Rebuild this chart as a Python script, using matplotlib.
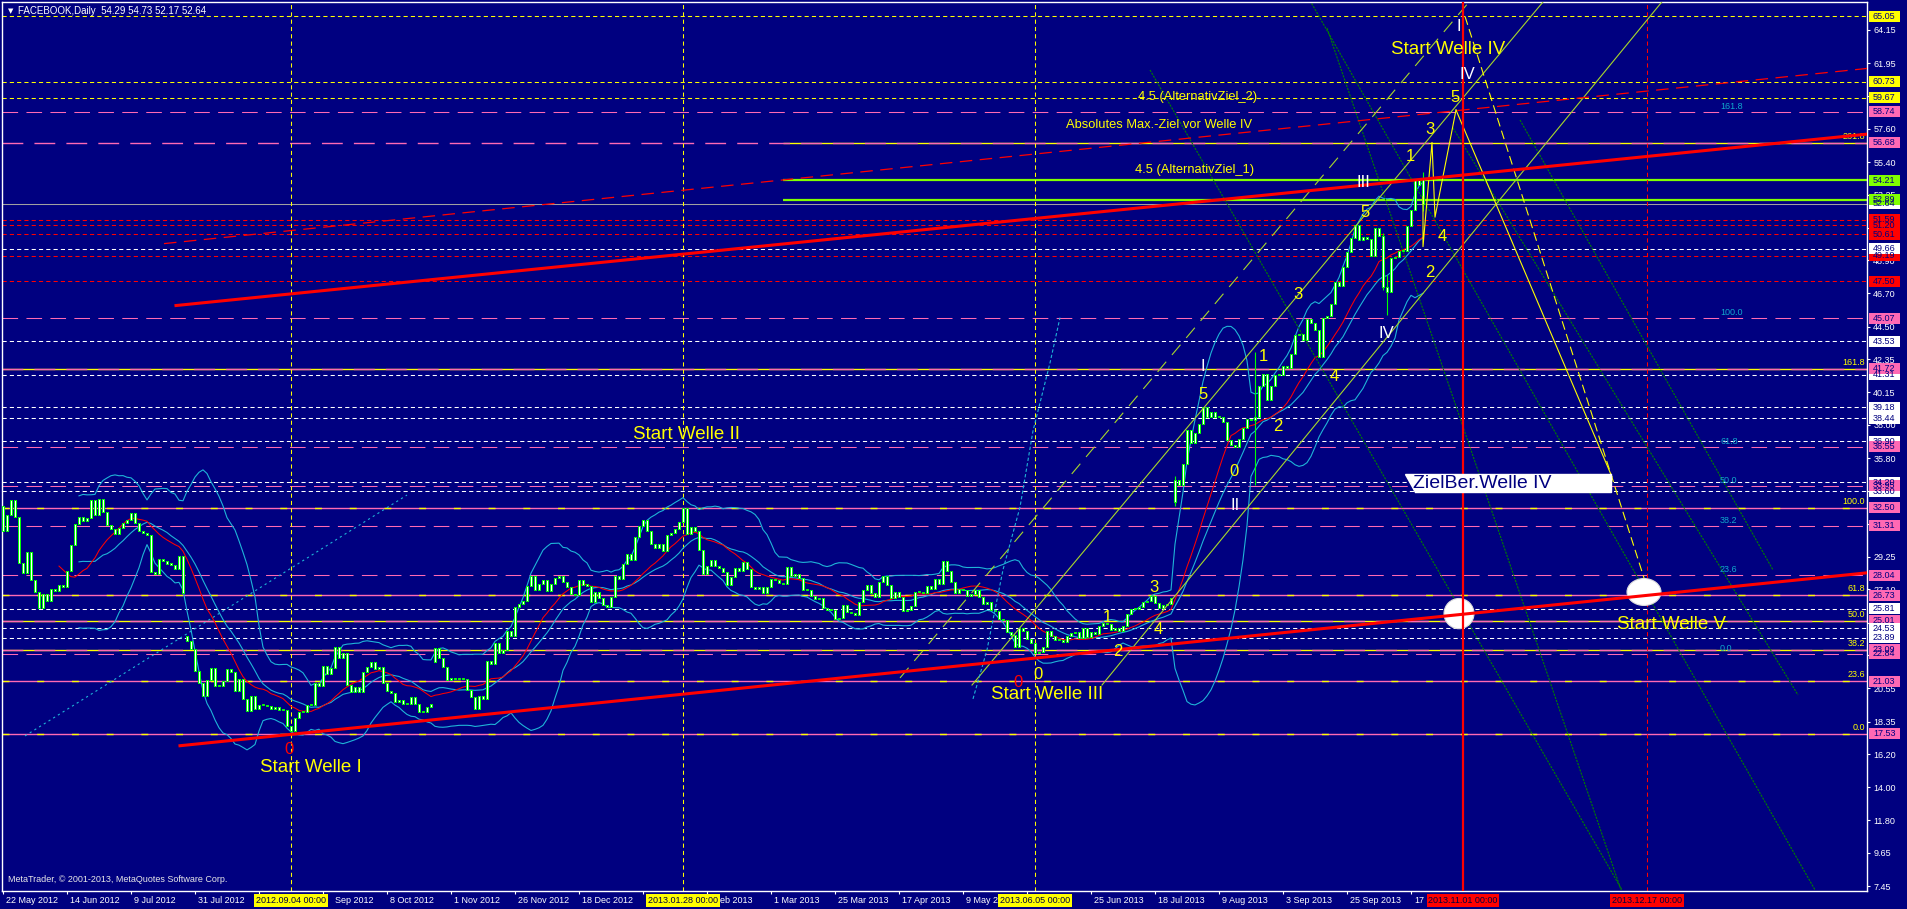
"""FACEBOOK daily chart with Elliott wave markup, drawn in the MetaTrader style."""

import matplotlib
matplotlib.use("Agg")
import matplotlib.pyplot as plt
import matplotlib.transforms as mtransforms
from matplotlib.patches import Ellipse, Polygon, Rectangle
import numpy as np
import pandas as pd

plt.rcParams["font.family"] = ["Liberation Sans", "DejaVu Sans"]

NAVY = "#000080"
LIME = "#00ff00"
CYAN = "#1fb4d8"
PINK = "#ff69b4"
YELLOW = "#ffff00"
RED = "#ff0000"
CHART = "#80ff00"
YGREEN = "#a8d82a"
DGREEN = "#008000"
FIBO_CYAN = "#10a8cc"

# daily closes, 22 May 2012 .. 22 Oct 2013 (bar index 0 .. 355)
closes = [
    31.00, 32.00, 33.03, 31.91, 28.84, 28.19, 29.60, 27.72, 26.90, 25.87,
    26.81, 26.31, 27.10, 27.01, 27.40, 27.27, 28.29, 30.01, 31.41, 31.91,
    31.60, 31.84, 33.05, 32.06, 33.10, 32.23, 31.36, 31.10, 30.77, 31.20,
    31.47, 31.73, 32.17, 31.47, 30.97, 30.81, 30.72, 28.25, 28.09, 29.11,
    29.00, 28.76, 28.75, 28.45, 29.34, 26.85, 23.71, 23.15, 21.71, 20.88,
    20.04, 21.09, 21.92, 20.72, 20.72, 21.01, 21.81, 21.60, 20.38, 21.20,
    19.87, 19.05, 20.01, 19.16, 19.44, 19.44, 19.41, 19.15, 19.34, 19.10,
    19.09, 18.06, 17.73, 18.58, 18.96, 18.98, 19.43, 19.43, 20.93, 20.71,
    22.00, 21.52, 21.87, 23.29, 22.59, 22.86, 20.79, 20.28, 20.62, 20.32,
    21.66, 21.99, 22.27, 21.83, 21.95, 20.91, 20.40, 20.23, 19.64, 19.75,
    19.52, 19.52, 19.97, 19.50, 18.98, 19.00, 19.32, 19.50, 23.23, 22.56,
    21.94, 21.11, 21.21, 21.18, 21.25, 21.17, 20.47, 19.99, 19.21, 20.07,
    19.86, 22.36, 22.17, 23.56, 22.92, 23.10, 24.32, 24.00, 25.94, 26.15,
    26.36, 27.32, 28.00, 27.04, 27.46, 27.71, 26.97, 27.49, 27.84, 27.98,
    27.58, 27.24, 26.81, 26.75, 27.71, 27.41, 27.36, 26.26, 26.93, 26.51,
    26.05, 25.91, 26.62, 28.00, 27.77, 28.76, 29.42, 29.06, 30.59, 31.30,
    31.72, 30.95, 30.10, 29.85, 30.14, 29.66, 30.73, 30.82, 31.08, 31.54,
    32.47, 30.79, 31.24, 30.98, 29.73, 28.11, 28.64, 29.05, 28.65, 28.55,
    28.26, 27.37, 27.91, 28.50, 28.32, 28.93, 28.46, 27.28, 27.13, 27.27,
    26.87, 27.25, 27.78, 27.72, 27.52, 27.45, 28.58, 27.96, 28.14, 27.83,
    27.08, 27.04, 26.65, 26.49, 26.55, 25.86, 25.74, 25.73, 25.13, 25.21,
    26.09, 25.58, 25.53, 25.42, 26.25, 27.07, 27.39, 26.85, 26.59, 27.57,
    28.02, 27.40, 26.52, 26.92, 26.63, 25.69, 25.73, 25.97, 26.92, 26.92,
    26.85, 27.33, 27.10, 27.77, 27.43, 28.97, 28.31, 27.57, 26.89, 27.12,
    27.04, 26.68, 26.82, 27.07, 26.60, 26.13, 26.25, 25.76, 25.66, 25.16,
    25.06, 24.31, 24.10, 23.32, 24.55, 24.35, 23.85, 23.52, 22.90, 22.97,
    23.29, 24.33, 24.03, 23.77, 23.73, 23.63, 24.02, 24.21, 24.31, 23.90,
    24.53, 23.94, 24.25, 24.16, 24.66, 24.88, 24.81, 24.41, 24.52, 24.37,
    24.71, 25.48, 25.80, 25.81, 25.91, 26.28, 26.32, 26.65, 26.18, 25.88,
    26.05, 26.13, 26.51, 34.36, 34.01, 35.43, 37.63, 36.80, 37.49, 38.05,
    39.19, 38.55, 38.87, 38.54, 38.50, 38.22, 37.02, 36.65, 36.56, 37.08,
    37.81, 38.41, 38.32, 38.55, 40.55, 41.34, 39.64, 40.55, 41.28, 41.29,
    41.87, 41.78, 42.66, 43.95, 44.04, 43.60, 45.04, 44.75, 44.31, 42.51,
    45.07, 45.23, 45.98, 47.49, 47.19, 48.45, 49.46, 50.39, 51.24, 50.23,
    50.42, 50.28, 49.18, 51.04, 50.52, 47.14, 46.77, 49.05, 49.11, 49.51,
    49.50, 51.14, 52.21, 54.22, 53.85, 52.64,
]

# bars whose open is not the previous close (gaps)
gap_bars = [0, 46, 108, 293, 355]
gap_opens = [32.61, 24.00, 22.30, 32.90, 54.29]
# bars with long shadows
wick_bars = [293, 313, 345, 346, 355]
wick_lows = [32.60, 34.00, 46.90, 45.30, 52.17]
wick_highs = [34.60, 42.80, 50.70, 47.90, 54.73]

# time scale: the part of each label that is not covered by a date box
date_ticks = list(range(0, 353, 16))
date_label_bars = [0.75, 16.75, 32.75, 48.75, 83.0, 96.75, 112.75, 128.75, 144.75,
                   179.25, 192.75, 208.75, 224.75, 240.75, 272.75, 288.75, 304.75,
                   320.75, 336.75, 352.75]
date_labels = [
    "22 May 2012", "14 Jun 2012", "9 Jul 2012", "31 Jul 2012", "Sep 2012",
    "8 Oct 2012", "1 Nov 2012", "26 Nov 2012", "18 Dec 2012", "eb 2013",
    "1 Mar 2013", "25 Mar 2013", "17 Apr 2013", "9 May 2", "25 Jun 2013",
    "18 Jul 2013", "9 Aug 2013", "3 Sep 2013", "25 Sep 2013", "17",
]

price_ticks = [7.45, 9.65, 11.80, 14.00, 16.20, 18.35, 20.55, 22.75, 24.90,
               27.10, 29.25, 31.40, 33.60, 35.80, 38.00, 40.15, 42.35, 44.50,
               46.70, 48.90, 51.05, 53.25, 55.40, 57.60, 59.80, 61.95, 64.15]

# horizontal lines
white_levels = [49.66, 43.53, 41.31, 39.18, 38.44, 36.90, 34.20, 33.60, 25.81, 24.53, 23.89]
red_levels = [51.59, 51.20, 50.61, 49.19, 47.50]
yellow_levels = [65.05, 60.73, 59.67]
green_levels = [54.21, 52.89]
fibo_a_prices = [17.53, 21.03, 23.09, 25.01, 26.73, 32.50, 41.72, 56.68]
fibo_a_labels = ["0.0", "23.6", "38.2", "50.0", "61.8", "100.0", "161.8", "261.8"]
fibo_a_yellow = [False, False, True, True, False, False, True, True]
fibo_b_prices = [22.84, 28.04, 31.31, 33.95, 36.55, 45.07, 58.74]
fibo_b_labels = ["0.0", "23.6", "38.2", "50.0", "61.8", "100.0", "161.8"]

# price labels on the right scale (drawn in this order)
box_prices = [65.05, 60.73, 59.67, 58.74, 56.68, 54.21, 52.64, 52.89, 51.20, 51.59,
              50.61, 49.19, 49.66, 47.50, 45.07, 43.53, 41.31, 41.72, 39.18, 38.44,
              36.90, 36.55, 34.20, 33.60, 33.95, 32.50, 31.31, 28.04, 26.73, 25.81,
              25.01, 24.53, 23.89, 23.09, 22.84, 21.03, 17.53]
box_colors = [YELLOW, YELLOW, YELLOW, PINK, PINK, CHART, "white", CHART, RED, RED,
              RED, RED, "white", RED, PINK, "white", "white", PINK, "white", "white",
              "white", PINK, "white", "white", PINK, PINK, PINK, PINK, PINK, "white",
              PINK, "white", "white", PINK, PINK, PINK, PINK]

# chart objects, anchors as (bar index, price)
red_low_x, red_low_y = [44.25, 466.0], [16.75, 28.20]
red_up_x, red_up_y = [43.25, 466.0], [45.90, 57.25]
red_dash_x, red_dash_y = [40.25, 466.0], [50.00, 61.60]
yg_solid_x = [[242.25, 385.0], [274.75, 414.7]]
yg_solid_y = [[20.77, 66.0], [20.77, 66.0]]
yg_dash_x, yg_dash_y = [224.25, 366.5], [21.24, 66.0]
dg_x = [[331.0, 404.5], [286.75, 404.75], [326.75, 453.0], [379.25, 442.5], [362.5, 448.75]]
dg_y = [[64.28, 7.20], [61.50, 7.20], [66.10, 7.20], [58.19, 28.39], [57.66, 20.11]]
cyan_line_x, cyan_line_y = [5.5, 101.0], [17.40, 33.35]
cyan_curve_x = [242.5, 246.0, 250.0, 254.25, 257.5, 261.75, 264.25]
cyan_curve_y = [19.85, 23.10, 28.40, 32.55, 37.60, 42.10, 45.10]
zig_x, zig_y = [355.0, 355.0, 357.25, 358.0, 363.25], [53.10, 49.80, 56.70, 51.75, 58.85]
proj_a_x, proj_a_y = [363.25, 402.25], [58.85, 34.55]
proj_b_x, proj_b_y = [365.5, 410.5], [65.05, 27.65]
target_x = [364.0, 410.25]
target_y = [25.50, 26.93]
target_w = [7.5, 8.5]
target_h = [2.0, 1.78]
ziel_x = [350.5, 402.0, 402.0, 353.0]
ziel_y = [34.75, 34.75, 33.55, 33.55]

vline_bars = [72, 170, 258, 365, 411]
vline_labels = ["2012.09.04 00:00", "2013.01.28 00:00", "2013.06.05 00:00",
                "2013.11.01 00:00", "2013.12.17 00:00"]
vline_colors = [YELLOW, YELLOW, YELLOW, RED, RED]

# wave counts: (text, bar index, price)
wave_yellow = [("0", 258.75, 21.44), ("1", 276.0, 25.21), ("2", 278.75, 22.96),
               ("3", 287.75, 27.20), ("4", 288.75, 24.42), ("5", 300.0, 40.04),
               ("0", 307.75, 34.88), ("1", 315.0, 42.50), ("2", 318.75, 37.92),
               ("3", 323.75, 46.60), ("4", 332.75, 41.17), ("5", 340.5, 52.03),
               ("1", 351.75, 55.74), ("3", 356.75, 57.53), ("5", 363.0, 59.65),
               ("4", 359.75, 50.44), ("2", 356.75, 48.06)]
wave_white = [("I", 300.0, 41.83), ("II", 308.0, 32.63), ("III", 340.0, 54.02),
              ("IV", 345.75, 44.02), ("IV", 366.0, 61.17), ("I", 364.0, 64.35)]
wave_red = [("0", 71.5, 16.47), ("0", 253.75, 20.97)]
big_labels = [("Start Welle I", 77.0, 15.30), ("Start Welle II", 170.75, 37.33),
              ("Start Welle III", 261.0, 20.11), ("Start Welle IV", 361.25, 62.83),
              ("Start Welle V", 417.0, 24.75)]
small_labels = [("4.5 (AlternativZiel_2)", 298.75, 59.71),
                ("Absolutes Max.-Ziel vor Welle IV", 289.0, 57.86),
                ("4.5 (AlternativZiel_1)", 298.0, 54.88)]


def build_ohlc():
    c = np.array(closes)
    o = np.concatenate([[c[0]], c[:-1]])
    for i, v in zip(gap_bars, gap_opens):
        o[i] = v
    hi = np.maximum(o, c)
    lo = np.minimum(o, c)
    for i, l, h in zip(wick_bars, wick_lows, wick_highs):
        lo[i] = min(lo[i], l)
        hi[i] = max(hi[i], h)
    return o, hi, lo, c


fig = plt.figure(figsize=(19.07, 9.09), dpi=100, facecolor=NAVY)
ax = fig.add_axes([2 / 1907, 18 / 909, 1865 / 1907, 889 / 909], facecolor=NAVY)
ax.set_xlim(-0.25, 466.0)
ax.set_ylim(7.13, 66.0)
for sp in ax.spines.values():
    sp.set_color("white")
    sp.set_linewidth(1.0)

# horizontal levels
for v in white_levels:
    ax.axhline(v, color="white", lw=0.75, ls=(0, (4, 3)), zorder=1.2)
for v in red_levels:
    ax.axhline(v, color=RED, lw=0.75, ls=(0, (4, 3)), zorder=1.2)
for v in yellow_levels:
    ax.axhline(v, color=YELLOW, lw=0.75, ls=(0, (4, 3)), zorder=1.2)
ax.axhline(52.64, color="#a0a0a0", lw=0.75, zorder=1.2)
for v in green_levels:
    ax.hlines(v, 195, 466, color=CHART, lw=1.6, zorder=1.4)
for v, lab, yel in zip(fibo_a_prices, fibo_a_labels, fibo_a_yellow):
    if yel:
        start = 195 if v > 50 else -1
        ax.hlines(v, start, 466, color=YELLOW, lw=1.0, zorder=1.3)
        ax.axhline(v, color=PINK, lw=1.0, ls=(0, (15, 8)), zorder=1.31)
    else:
        ax.axhline(v, color=PINK, lw=1.0, zorder=1.3)
        ax.axhline(v, color=YELLOW, lw=1.0, ls=(0, (5, 20)), zorder=1.31)
    ax.text(465.5, v + 0.12, lab, color=YELLOW, fontsize=6.5, ha="right", va="bottom", zorder=6)
for v, lab in zip(fibo_b_prices, fibo_b_labels):
    ax.axhline(v, color=PINK, lw=0.75, ls=(0, (15, 8)), zorder=1.25)
    ax.text(429.25, v + 0.05, lab, color=FIBO_CYAN, fontsize=6.5, ha="left", va="bottom", zorder=6)

# vertical time lines
for b, col in zip(vline_bars, vline_colors):
    if b == 365:
        ax.axvline(b, color=col, lw=1.6, zorder=7)
    else:
        ax.axvline(b, color=col, lw=0.75, ls=(0, (4, 3)), zorder=1.5)

# indicators
idx = np.arange(len(closes))
s = pd.Series(closes)
mid = s.rolling(20).mean()
sd = s.rolling(20).std(ddof=0)
for band in (mid + 2 * sd, mid, mid - 2 * sd):
    ax.plot(idx, band, color=CYAN, lw=0.8, zorder=2)
ax.plot(idx, s.rolling(15).mean(), color=RED, lw=0.75, zorder=2.1)

# candles
o, hi, lo, c = build_ohlc()
ax.vlines(idx, lo, hi, color=LIME, lw=0.8, zorder=3)
ax.bar(idx, np.maximum(np.abs(c - o), 0.07), bottom=np.minimum(o, c), width=0.62,
       color="white", edgecolor=LIME, linewidth=0.7, zorder=4)

# trend lines and channels
for xs, ys in zip(dg_x, dg_y):
    ax.plot(xs, ys, color=DGREEN, lw=0.8, ls=(0, (2, 1)), zorder=2.5)
for xs, ys in zip(yg_solid_x, yg_solid_y):
    ax.plot(xs, ys, color=YGREEN, lw=0.8, zorder=5)
ax.plot(yg_dash_x, yg_dash_y, color=YGREEN, lw=0.8, ls=(0, (12, 8)), zorder=5)
ax.plot(cyan_line_x, cyan_line_y, color=CYAN, lw=0.8, ls=(0, (2, 3)), zorder=5)
ax.plot(cyan_curve_x, cyan_curve_y, color=CYAN, lw=0.8, ls=(0, (3, 2)), zorder=5)
ax.plot(zig_x, zig_y, color=YELLOW, lw=0.8, zorder=5)
ax.plot(proj_a_x, proj_a_y, color=YELLOW, lw=0.8, zorder=5)
ax.plot(proj_b_x, proj_b_y, color=YELLOW, lw=0.8, ls=(0, (8, 4)), zorder=5)

for x, y, w, h in zip(target_x, target_y, target_w, target_h):
    ax.add_patch(Ellipse((x, y), w, h, facecolor="white", edgecolor="#dddddd", lw=0.8, zorder=6.5))

ax.plot(red_dash_x, red_dash_y, color=RED, lw=0.9, ls=(0, (10, 6)), zorder=7)
ax.plot(red_up_x, red_up_y, color=RED, lw=2.2, zorder=7)
ax.plot(red_low_x, red_low_y, color=RED, lw=2.2, zorder=7)

ax.add_patch(Polygon(np.column_stack([ziel_x, ziel_y]), closed=True, facecolor="white",
                     edgecolor="white", zorder=8))
ax.text(352.5, 34.12, "ZielBer.Welle IV", color=NAVY, fontsize=14, ha="left", va="center", zorder=9)

# labels
for t, x, y in wave_yellow:
    ax.text(x, y, t, color=YELLOW, fontsize=12, ha="center", va="center", zorder=9)
for t, x, y in wave_white:
    ax.text(x, y, t, color="white", fontsize=12, ha="center", va="center", zorder=9)
for t, x, y in wave_red:
    ax.text(x, y, t, color=RED, fontsize=12, ha="center", va="center", zorder=9)
for t, x, y in big_labels:
    ax.text(x, y, t, color=YELLOW, fontsize=13.5, ha="center", va="center", zorder=9)
for t, x, y in small_labels:
    ax.text(x, y, t, color=YELLOW, fontsize=9.3, ha="center", va="center", zorder=9)

# right price scale
ax.yaxis.tick_right()
ax.set_yticks(price_ticks)
ax.set_yticklabels(["%.2f" % v for v in price_ticks])
ax.tick_params(axis="y", colors="white", length=2.5, width=0.8, labelsize=6.5, pad=2)
trans_r = mtransforms.blended_transform_factory(ax.transAxes, ax.transData)
for v, col in zip(box_prices, box_colors):
    ax.add_patch(Rectangle((1.0011, v - 0.364), 0.0166, 0.728, transform=trans_r,
                           facecolor=col, edgecolor="none", clip_on=False, zorder=10))
    ax.text(1.0032, v, "%.2f" % v, transform=trans_r, color=NAVY, fontsize=6.5,
            ha="left", va="center", clip_on=False, zorder=11)

# bottom time scale
ax.set_xticks(date_ticks)
ax.tick_params(axis="x", colors="white", length=2.5, width=0.8, labelbottom=False)
trans_b = mtransforms.blended_transform_factory(ax.transData, fig.transFigure)
for b, lab in zip(date_label_bars, date_labels):
    ax.text(b, 8.5 / 909, lab, transform=trans_b, color="white", fontsize=6.5,
            ha="left", va="center", clip_on=False, zorder=10)
for b, lab, col in zip(vline_bars, vline_labels, vline_colors):
    ax.text(b, 8.5 / 909, lab, transform=trans_b, color="#000040", fontsize=6.5,
            ha="center", va="center", clip_on=False, zorder=12,
            bbox=dict(boxstyle="square,pad=0.2", facecolor=col, edgecolor="none"))

fig.text(8 / 1907, 1 - 11 / 909, "\u25bc", color="white", fontsize=5, va="center",
         family="DejaVu Sans")
fig.text(18 / 1907, 1 - 11 / 909, "FACEBOOK,Daily  54.29 54.73 52.17 52.64",
         color="white", fontsize=7, va="center")
fig.text(8 / 1907, 1 - 880 / 909, "MetaTrader, \u00a9 2001-2013, MetaQuotes Software Corp.",
         color="#e8e8e8", fontsize=6.5, va="center")

fig.savefig("out.png", dpi=100, facecolor=NAVY)
